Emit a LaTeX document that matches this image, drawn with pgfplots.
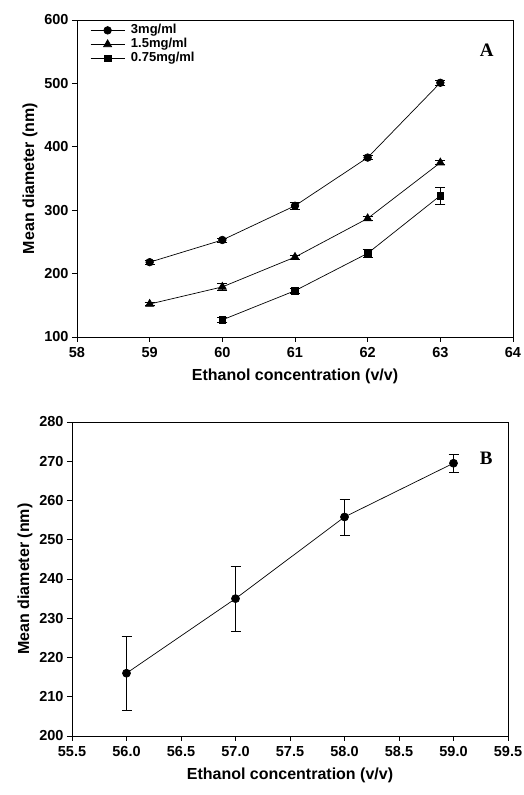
\documentclass[border=0pt]{standalone}
\usepackage{fontspec}
\setmainfont{Liberation Sans}
\newfontfamily\timesfont{Liberation Serif}
\usepackage{pgfplots}
\usepackage{pgfplotstable}
\pgfplotsset{compat=1.18}

% panel A: mean diameter vs ethanol, three concentrations
\pgfplotstableread{
x y e
59 218 3
60 253 3
61 307 5
62 383 3
63 501 4
}\tabhigh
\pgfplotstableread{
x y e
59 152 2
60 179 5
61 226 3
62 287 3
63 375 3
}\tabmid
\pgfplotstableread{
x y e
60 127 4
61 173 4
62 232 6
63 323 13
}\tablow
% panel B
\pgfplotstableread{
x y e
56 216.0 9.4
57 235.0 8.2
58 255.8 4.6
59 269.5 2.3
}\tabB

\pgfplotsset{
  panel/.style={
    scale only axis, width=436pt,
    axis line style={line width=0.6pt},
    tick align=outside, tick pos=left, major tick length=5pt,
    tick style={line width=0.6pt, black},
    ticklabel style={font=\fontsize{14.5}{14.5}\selectfont\bfseries},
    xticklabel style={yshift=-2pt},
    label style={font=\fontsize{16}{16}\selectfont\bfseries},
    xlabel style={yshift=-4pt},
    /pgf/number format/assume math mode=true,
    every axis plot/.append style={black, line width=0.7pt},
    error bars/error bar style={line width=0.6pt},
    error bars/error mark options={rotate=90, mark size=5pt, line width=0.6pt},
  }
}

\begin{document}
\begin{tikzpicture}[x=1pt,y=1pt]
\path[use as bounding box] (0,0) rectangle (524,795);

\begin{axis}[panel, at={(77pt,458pt)}, anchor=south west, height=317pt,
  xmin=58, xmax=64, ymin=100, ymax=600,
  xtick={58,...,64}, ytick={100,200,...,600},
  xlabel={Ethanol concentration (v/v)},
  ylabel={Mean diameter (nm)},
  legend style={at={(0.03,0.99)}, anchor=north west, draw=none, fill=none,
    font=\fontsize{13}{13}\selectfont\bfseries, inner sep=0pt,
    nodes={inner sep=1pt, text height=9pt, text depth=3pt},
    /tikz/every odd column/.append style={column sep=5pt}},
  legend cell align=left,
  legend image code/.code={\draw[mark repeat=2,mark phase=2] plot coordinates {(0pt,0pt)(17pt,0pt)(34pt,0pt)};},
]
\addplot[mark=*, mark size=3.8pt, error bars/.cd, y dir=both, y explicit]
  table[x=x, y=y, y error=e]{\tabhigh};
\addlegendentry{3mg/ml}
\addplot[mark=triangle*, mark size=4.6pt, error bars/.cd, y dir=both, y explicit]
  table[x=x, y=y, y error=e]{\tabmid};
\addlegendentry{1.5mg/ml}
\addplot[mark=square*, mark size=3.4pt, error bars/.cd, y dir=both, y explicit]
  table[x=x, y=y, y error=e]{\tablow};
\addlegendentry{0.75mg/ml}
\node[font=\timesfont\fontsize{19}{19}\selectfont\bfseries] at (rel axis cs:0.94,0.905) {A};
\end{axis}

\begin{axis}[panel, at={(72pt,59pt)}, anchor=south west, height=314pt,
  xmin=55.5, xmax=59.5, ymin=200, ymax=280,
  xtick={55.5,56,...,59.5}, ytick={200,210,...,280},
  xticklabel style={/pgf/number format/.cd, fixed, fixed zerofill, precision=1},
  xlabel={Ethanol concentration (v/v)},
  ylabel={Mean diameter (nm)},
]
\addplot[mark=*, mark size=4pt, error bars/.cd, y dir=both, y explicit]
  table[x=x, y=y, y error=e]{\tabB};
\node[font=\timesfont\fontsize{19}{19}\selectfont\bfseries] at (rel axis cs:0.95,0.885) {B};
\end{axis}
\end{tikzpicture}
\end{document}
